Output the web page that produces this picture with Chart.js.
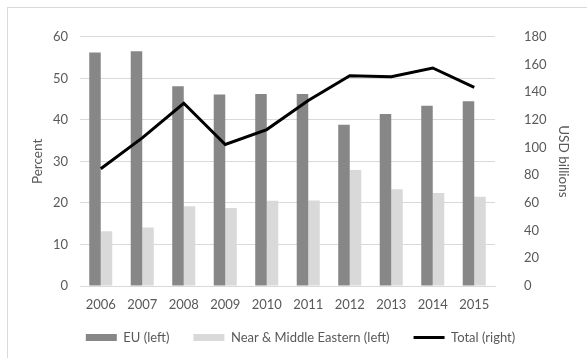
<!DOCTYPE html>
<html>
<head>
<meta charset="utf-8">
<script src="https://cdn.jsdelivr.net/npm/chart.js@4"></script>
<style>
  html, body { margin: 0; padding: 0; background: #fff; }
  #wrap { width: 587px; height: 358px; position: relative; }
</style>
</head>
<body>
<div id="wrap"><canvas id="chart" width="587" height="358"></canvas></div>
<script>
const years = ["2006", "2007", "2008", "2009", "2010", "2011", "2012", "2013", "2014", "2015"];
const euShare = [56.2, 56.5, 48.1, 46.1, 46.2, 46.2, 38.8, 41.4, 43.4, 44.5];
const nearMiddleEastShare = [13.2, 14.1, 19.2, 18.8, 20.5, 20.6, 27.9, 23.3, 22.4, 21.5];
const totalUsd = [84.7, 107, 132, 102.2, 113, 134, 151.9, 151.2, 157.5, 143.5];

const tickColor = "#595959";
const gridColor = "#d9d9d9";
const fontFamily = "Lato, 'Open Sans', sans-serif";

// light grey frame around the chart (runs off the right/bottom edge)
const framePlugin = {
    id: "frame",
    beforeDraw(chart) {
        const c = chart.ctx;
        c.save();
        c.strokeStyle = "#d9d9d9";
        c.lineWidth = 1;
        c.strokeRect(7.5, 7.5, 700, 500);
        c.restore();
    },
};

// pull the legend up a little, its padding also sets the gaps between items
const legendShift = {
    id: "legendShift",
    afterLayout(chart) {
        chart.legend.top -= 6;
        chart.legend.bottom -= 6;
    },
};

Chart.defaults.font.family = fontFamily;
Chart.defaults.font.size = 13;
Chart.defaults.color = tickColor;

const ctx = document.getElementById("chart").getContext("2d");
new Chart(ctx, {
    data: {
        labels: years,
        datasets: [
            {
                type: "line",
                label: "Total (right)",
                data: totalUsd,
                yAxisID: "yRight",
                borderColor: "#000000",
                backgroundColor: "#000000",
                borderWidth: 3,
                pointRadius: 0,
                tension: 0,
                pointStyle: "line",
                order: 0,
            },
            {
                type: "bar",
                label: "EU (left)",
                data: euShare,
                yAxisID: "yLeft",
                backgroundColor: "#878787",
                categoryPercentage: 0.555,
                barPercentage: 1.0,
                pointStyle: "rect",
                order: 1,
            },
            {
                type: "bar",
                label: "Near & Middle Eastern (left)",
                data: nearMiddleEastShare,
                yAxisID: "yLeft",
                backgroundColor: "#d9d9d9",
                categoryPercentage: 0.555,
                barPercentage: 1.0,
                pointStyle: "rect",
                order: 2,
            },
        ],
    },
    options: {
        responsive: false,
        animation: false,
        layout: { padding: { left: 14, right: 0, top: 25, bottom: -2 } },
        plugins: {
            tooltip: { enabled: false },
            legend: {
                position: "bottom",
                labels: {
                    usePointStyle: true,
                    pointStyleWidth: 31,
                    boxHeight: 7,
                    padding: 24,
                    color: tickColor,
                    font: { size: 13 },
                    sort: (a, b) => a.datasetIndex === 0 ? 1 : (b.datasetIndex === 0 ? -1 : a.datasetIndex - b.datasetIndex),
                },
            },
        },
        scales: {
            x: {
                grid: { display: false, drawTicks: false },
                border: { display: true, color: gridColor },
                ticks: { padding: 11, color: tickColor, maxRotation: 0 },
                afterFit(scale) { scale.height = 27; },
            },
            yLeft: {
                position: "left",
                min: 0,
                max: 60,
                ticks: { stepSize: 10, padding: 12, color: tickColor },
                grid: { color: gridColor, drawTicks: false },
                border: { display: false },
                title: { display: true, text: "Percent", color: tickColor, font: { size: 13.5 }, padding: { top: 16 } },
                afterFit(scale) { scale.width = 66; },
            },
            yRight: {
                position: "right",
                min: 0,
                max: 180,
                ticks: { stepSize: 20, padding: 29, color: tickColor },
                grid: { display: false, drawTicks: false },
                border: { display: false },
                title: { display: true, text: "USD billions", color: tickColor, font: { size: 13.5 }, padding: { top: 16 } },
                afterFit(scale) { scale.width = 92; },
            },
        },
    },
    plugins: [framePlugin, legendShift],
});
</script>
</body>
</html>
